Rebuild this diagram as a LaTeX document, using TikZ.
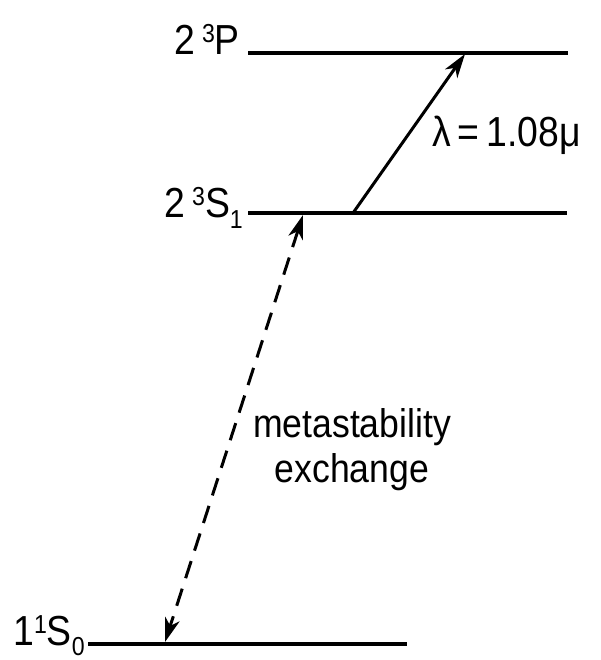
\documentclass[tikz,border=0pt]{standalone}
\usepackage{fontspec}
\setmainfont[FakeStretch=0.89]{Liberation Sans}
\usetikzlibrary{arrows.meta, positioning}

\newcommand{\up}[1]{\raisebox{12pt}{\fontsize{26}{26}\selectfont #1}}
\newcommand{\dn}[1]{\raisebox{-10pt}{\fontsize{26}{26}\selectfont #1}}

\begin{document}
\begin{tikzpicture}[x=1pt, y=-1pt,
   level/.style={line width=4pt},
   transition/.style={line width=3pt, -{Stealth[length=24pt, width=15pt, inset=7pt]}},
   swap/.style={line width=3pt, dash pattern=on 18pt off 11pt,
      {Stealth[length=24pt, width=15pt, inset=7pt]}-{Stealth[length=24pt, width=15pt, inset=7pt]}},
   term/.style={font=\fontsize{42}{48}\selectfont, inner sep=0pt}]
\useasboundingbox (0,0) rectangle (601,660);

% Levels
\coordinate (P-left) at (248,53);
\coordinate (P-right) at (568,53);
\coordinate (S1-left) at (248,213);
\coordinate (S1-right) at (567,213);
\coordinate (S0-left) at (88,644);
\coordinate (S0-right) at (407,644);

\draw[level] (P-left) -- (P-right);
\draw[level] (S1-left) -- (S1-right);
\draw[level] (S0-left) -- (S0-right);

% Level names
\node[term, anchor=base east] (P-name) at (240,55) {2\,\up{3}P};
\node[term, anchor=base east] (S1-name) at (243,218) {2\,\up{3}S\dn{1}};
\node[term, anchor=base east] (S0-name) at (85,645) {1\up{1}S\dn{0}};

% Transitions
\coordinate (pump-from) at (353,213);
\coordinate (pump-to) at (465,54);
\draw[transition] (pump-from) -- (pump-to);
\node[term, anchor=base west] (pump-label) at (432,147) {λ\,=\,1.08μ};

\coordinate (swap-top) at (303,215);
\coordinate (swap-bottom) at (165,642);
\draw[swap] (swap-top) -- (swap-bottom);
\node[font=\fontsize{40}{45}\selectfont, inner sep=0pt, align=center] (swap-label) at (352,450) {metastability\\exchange};
\end{tikzpicture}
\end{document}
